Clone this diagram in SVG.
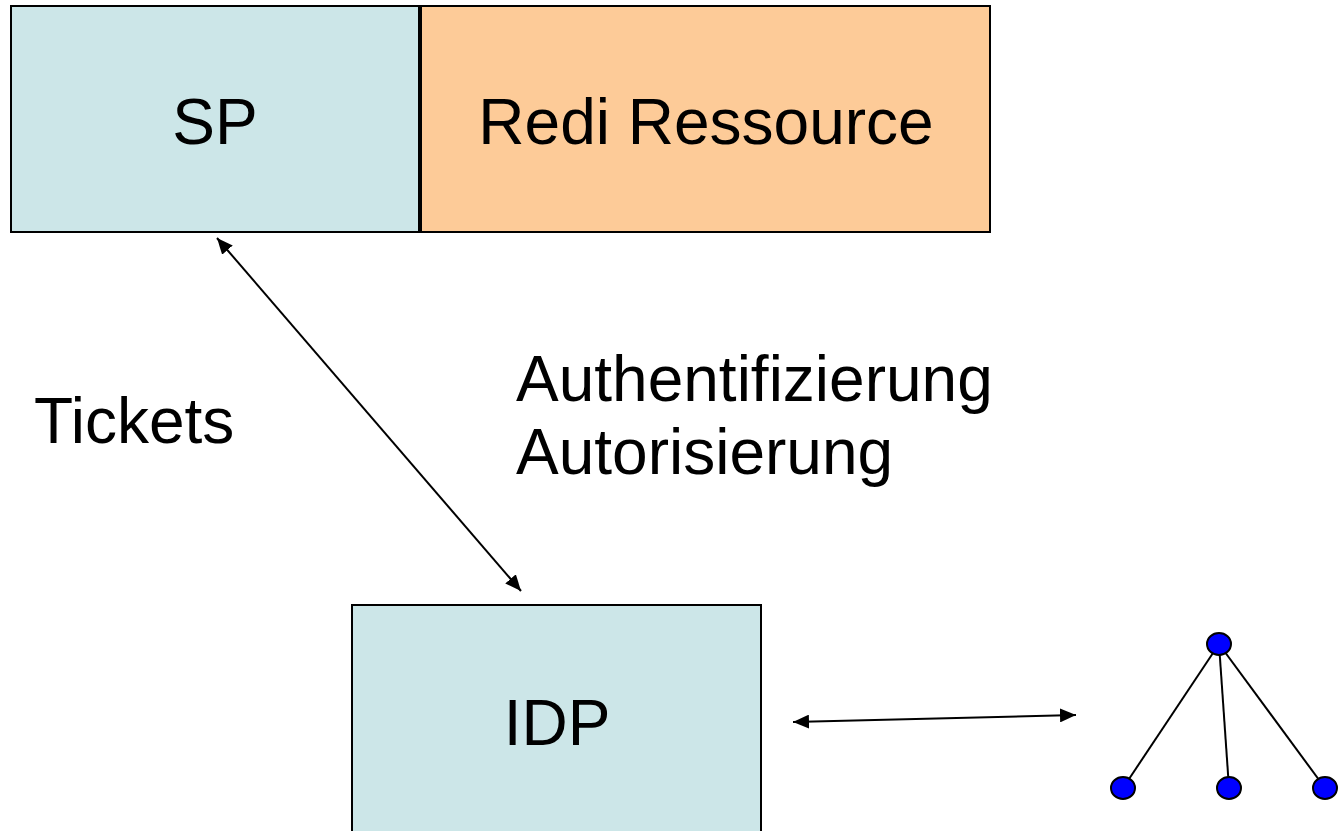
<svg xmlns="http://www.w3.org/2000/svg" width="1340" height="831" viewBox="0 0 1340 831">
  <style>
    .box { stroke: #000; stroke-width: 2; }
    .sp { fill: #cce6e8; }
    .res { fill: #fdcb98; }
    .label { font-family: "Liberation Sans", Arial, sans-serif; font-size: 64px; fill: #000; }
    .conn { stroke: #000; stroke-width: 2; fill: none; }
    .tree { stroke: #000; stroke-width: 2; }
    .dot { fill: #0000ff; stroke: #000; stroke-width: 2; }
  </style>
  <defs>
    <marker id="arrow" viewBox="0 0 10 10" refX="10" refY="5" markerWidth="8" markerHeight="8" markerUnits="userSpaceOnUse" orient="auto-start-reverse">
      <path d="M0,0 L10,5 L0,10 z" fill="#000"/>
    </marker>
    <marker id="head" viewBox="0 0 16 14" refX="16" refY="7" markerWidth="16" markerHeight="14" markerUnits="userSpaceOnUse" orient="auto-start-reverse">
      <path d="M0,0 L16,7 L0,14 z" fill="#000"/>
    </marker>
  </defs>

  <g id="sp">
    <rect class="box sp" x="11" y="6" width="408" height="226"/>
    <text class="label" x="215" y="144" text-anchor="middle">SP</text>
  </g>

  <g id="redi-ressource">
    <rect class="box res" x="421" y="6" width="569" height="226"/>
    <text class="label" x="706" y="144" text-anchor="middle">Redi Ressource</text>
  </g>

  <g id="idp">
    <rect class="box sp" x="352" y="605" width="409" height="240"/>
    <text class="label" x="557" y="745" text-anchor="middle">IDP</text>
  </g>

  <g id="labels">
    <text class="label" x="34" y="443">Tickets</text>
    <text class="label" x="516" y="401">Authentifizierung</text>
    <text class="label" x="516" y="474">Autorisierung</text>
  </g>

  <g id="directory">
    <line class="tree" x1="1219" y1="644" x2="1123" y2="788"/>
    <line class="tree" x1="1219" y1="644" x2="1229" y2="788"/>
    <line class="tree" x1="1219" y1="644" x2="1325" y2="788"/>
    <ellipse class="dot" cx="1219" cy="644" rx="12" ry="11"/>
    <ellipse class="dot" cx="1123" cy="788" rx="12" ry="11"/>
    <ellipse class="dot" cx="1229" cy="788" rx="12" ry="11"/>
    <ellipse class="dot" cx="1325" cy="788" rx="12" ry="11"/>
  </g>

  <g id="connectors">
    <line class="conn" x1="217" y1="238" x2="521" y2="591" marker-start="url(#head)" marker-end="url(#head)"/>
    <line class="conn" x1="793" y1="722" x2="1076" y2="715" marker-start="url(#head)" marker-end="url(#head)"/>
  </g>
</svg>
